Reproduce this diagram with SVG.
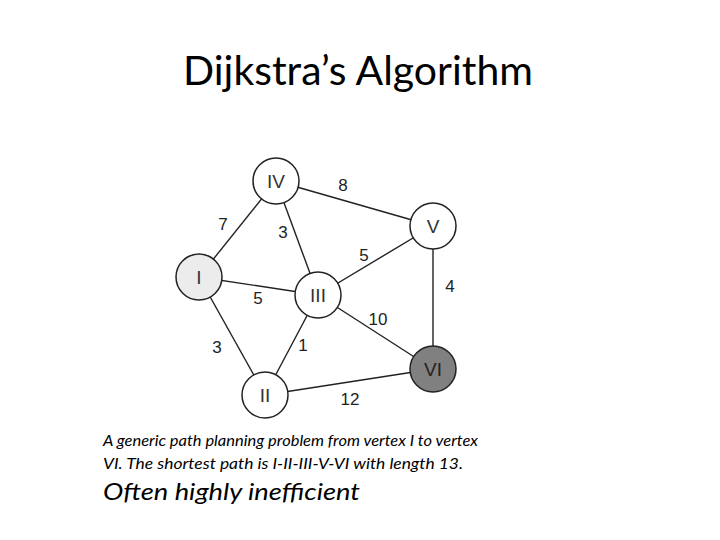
<svg xmlns="http://www.w3.org/2000/svg" width="720" height="540" viewBox="0 0 720 540">
<style>
.edge{stroke:#222;stroke-width:1.4;fill:none}
.node circle{stroke:#222;stroke-width:1.5;fill:#fff}
.nl{font-family:"Liberation Sans",Arial,sans-serif;font-size:19px;fill:#333;text-anchor:middle}
.el{font-family:"Liberation Sans",Arial,sans-serif;font-size:17px;fill:#222;text-anchor:middle}
.title{font-family:Lato,"Open Sans",sans-serif;font-size:40px;fill:#000;text-anchor:middle}
.cap{font-family:Lato,"Open Sans",sans-serif;font-style:italic;fill:#000}
</style>
<rect width="720" height="540" fill="#fff"/>
<text class="title" x="358" y="85" textLength="350" lengthAdjust="spacingAndGlyphs">Dijkstra’s Algorithm</text>
<g id="connectors">
<line class="edge" x1="276" y1="181" x2="433" y2="226"/>
<line class="edge" x1="276" y1="181" x2="199" y2="277"/>
<line class="edge" x1="276" y1="181" x2="318" y2="295"/>
<line class="edge" x1="199" y1="277" x2="318" y2="295"/>
<line class="edge" x1="199" y1="277" x2="265" y2="395"/>
<line class="edge" x1="318" y1="295" x2="433" y2="226"/>
<line class="edge" x1="318" y1="295" x2="433" y2="369"/>
<line class="edge" x1="318" y1="295" x2="265" y2="395"/>
<line class="edge" x1="433" y1="226" x2="433" y2="369"/>
<line class="edge" x1="265" y1="395" x2="433" y2="369"/>
<text class="el" x="343" y="191">8</text>
<text class="el" x="223" y="230">7</text>
<text class="el" x="283" y="238">3</text>
<text class="el" x="364" y="261">5</text>
<text class="el" x="450" y="292">4</text>
<text class="el" x="258" y="304">5</text>
<text class="el" x="378" y="325">10</text>
<text class="el" x="217" y="353">3</text>
<text class="el" x="303" y="351">1</text>
<text class="el" x="350" y="405">12</text>
</g>
<g id="node-IV" class="node"><circle cx="276" cy="181" r="23"/><text class="nl" x="276" y="188">IV</text></g>
<g id="node-V" class="node"><circle cx="433" cy="226" r="23"/><text class="nl" x="433" y="233">V</text></g>
<g id="node-I" class="node"><circle cx="199" cy="277" r="23" style="fill:#ececec"/><text class="nl" x="199" y="284">I</text></g>
<g id="node-III" class="node"><circle cx="318" cy="295" r="23"/><text class="nl" x="318" y="302">III</text></g>
<g id="node-VI" class="node"><circle cx="433" cy="369" r="23" style="fill:#808080"/><text class="nl" x="433" y="376" style="fill:#222">VI</text></g>
<g id="node-II" class="node"><circle cx="265" cy="395" r="23"/><text class="nl" x="265" y="402">II</text></g>
<text class="cap" x="103" y="446" font-size="16" textLength="375" lengthAdjust="spacingAndGlyphs">A generic path planning problem from vertex I to vertex</text>
<text class="cap" x="103" y="469" font-size="16" textLength="360" lengthAdjust="spacingAndGlyphs">VI. The shortest path is I-II-III-V-VI with length 13.</text>
<text class="cap" x="103" y="500" font-size="24" textLength="257" lengthAdjust="spacingAndGlyphs">Often highly inefficient</text>
</svg>
